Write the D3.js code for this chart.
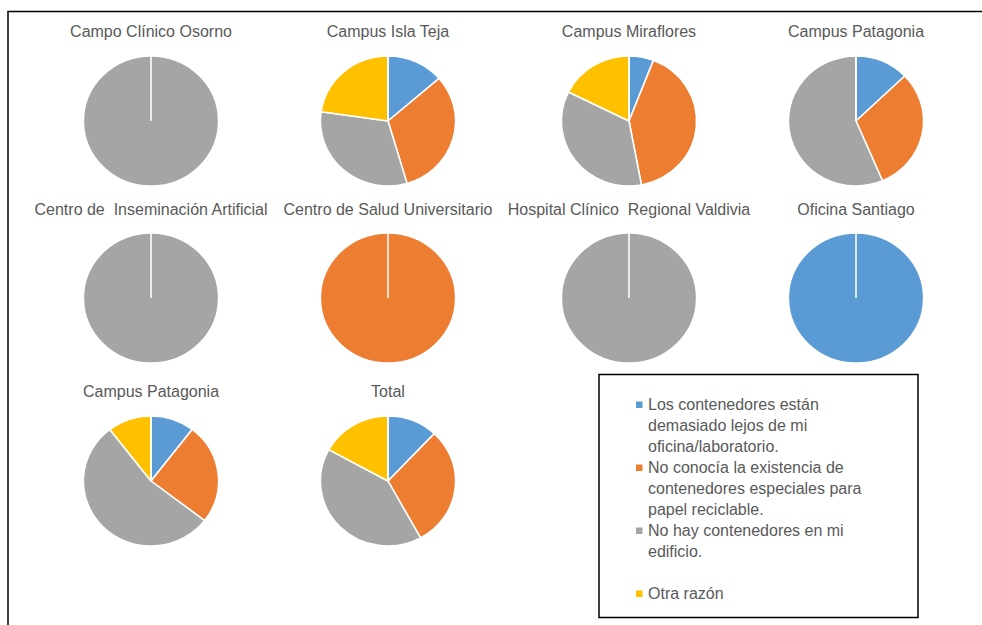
<!DOCTYPE html>
<html>
<head>
<meta charset="utf-8">
<script src="https://cdn.jsdelivr.net/npm/d3@7"></script>
<style>
  html, body { margin: 0; padding: 0; background: #fff; }
  svg { display: block; }
  text { font-family: "Liberation Sans", Arial, sans-serif; fill: #595959; white-space: pre; }
</style>
</head>
<body>
<svg id="chart" width="982" height="625"></svg>
<script>
// ---- Data ----
const categories = [
  "Los contenedores están demasiado lejos de mi oficina/laboratorio.",
  "No conocía la existencia de contenedores especiales para papel reciclable.",
  "No hay contenedores en mi edificio.",
  "Otra razón"
];
const legendLines = [
  ["Los contenedores están", "demasiado lejos de mi", "oficina/laboratorio."],
  ["No conocía la existencia de", "contenedores especiales para", "papel reciclable."],
  ["No hay contenedores en mi", "edificio."],
  ["Otra razón"]
];
const sites = [
  "Campo Clínico Osorno", "Campus Isla Teja", "Campus Miraflores", "Campus Patagonia",
  "Centro de  Inseminación Artificial", "Centro de Salud Universitario", "Hospital Clínico  Regional Valdivia", "Oficina Santiago",
  "Campus Patagonia", "Total"
];
const lejos     = [0,  6,  2,  5, 0, 0, 0, 1,  5, 12];
const noConocia = [0, 14, 14, 12, 0, 1, 0, 0, 12, 30];
const noHay     = [1, 14, 12, 22, 1, 0, 1, 0, 26, 41];
const otra      = [0, 10,  6,  0, 0, 0, 0, 0,  5, 17];
const series = [lejos, noConocia, noHay, otra];

// ---- Styles / layout ----
const colors = ["#5B9BD5", "#ED7D31", "#A5A5A5", "#FFC000"];
const colX = [151, 388, 629, 856];
const rowY = [121, 298, 481];
const titleBaseline = [37, 215, 397];
const R = 65;

const svg = d3.select("#chart");

// outer frame (left and top edges)
svg.append("path")
  .attr("d", "M8,625 V11.5 H982")
  .attr("fill", "none")
  .attr("stroke", "#000")
  .attr("stroke-width", 1.5);

const color = d3.scaleOrdinal().domain(categories).range(colors);
const pie = d3.pie().sort(null).value(d => d.v);
const arc = d3.arc().innerRadius(0).outerRadius(R);

sites.forEach((name, i) => {
  const col = i % 4, row = Math.floor(i / 4);
  const cx = colX[col], cy = rowY[row];
  const vals = categories.map((c, k) => ({ c, v: series[k][i] }));

  svg.append("text")
    .attr("x", cx)
    .attr("y", titleBaseline[row])
    .attr("text-anchor", "middle")
    .attr("xml:space", "preserve")
    .style("font-size", "16px")
    .text(name);

  const g = svg.append("g")
    .attr("transform", `translate(${cx},${cy}) scale(1.04,1)`);

  g.selectAll("path.slice")
    .data(pie(vals).filter(d => d.data.v > 0))
    .join("path")
    .attr("class", "slice")
    .attr("d", arc)
    .attr("fill", d => color(d.data.c))
    .attr("stroke", "#fff")
    .attr("stroke-width", 1.5)
    .attr("stroke-linejoin", "round");

  // slice boundary at 12 o'clock (visible even for single-category pies)
  g.append("line")
    .attr("x1", 0).attr("y1", 0)
    .attr("x2", 0).attr("y2", -R)
    .attr("stroke", "#fff")
    .attr("stroke-width", 1.5);
});

// ---- Legend ----
const lg = svg.append("g");
lg.append("rect")
  .attr("x", 599).attr("y", 374.5)
  .attr("width", 319).attr("height", 243)
  .attr("fill", "#fff")
  .attr("stroke", "#000")
  .attr("stroke-width", 1.5);

const lineH = 21;
categories.forEach((c, k) => {
  const baseY = 409.5 + k * 3 * lineH;
  lg.append("rect")
    .attr("x", 636).attr("y", baseY - 8)
    .attr("width", 6.5).attr("height", 6.5)
    .attr("fill", color(c));
  const t = lg.append("text")
    .attr("x", 648).attr("y", baseY)
    .style("font-size", "16px");
  legendLines[k].forEach((ln, j) => {
    t.append("tspan")
      .attr("x", 648)
      .attr("y", baseY + j * lineH)
      .text(ln);
  });
});
</script>
</body>
</html>
